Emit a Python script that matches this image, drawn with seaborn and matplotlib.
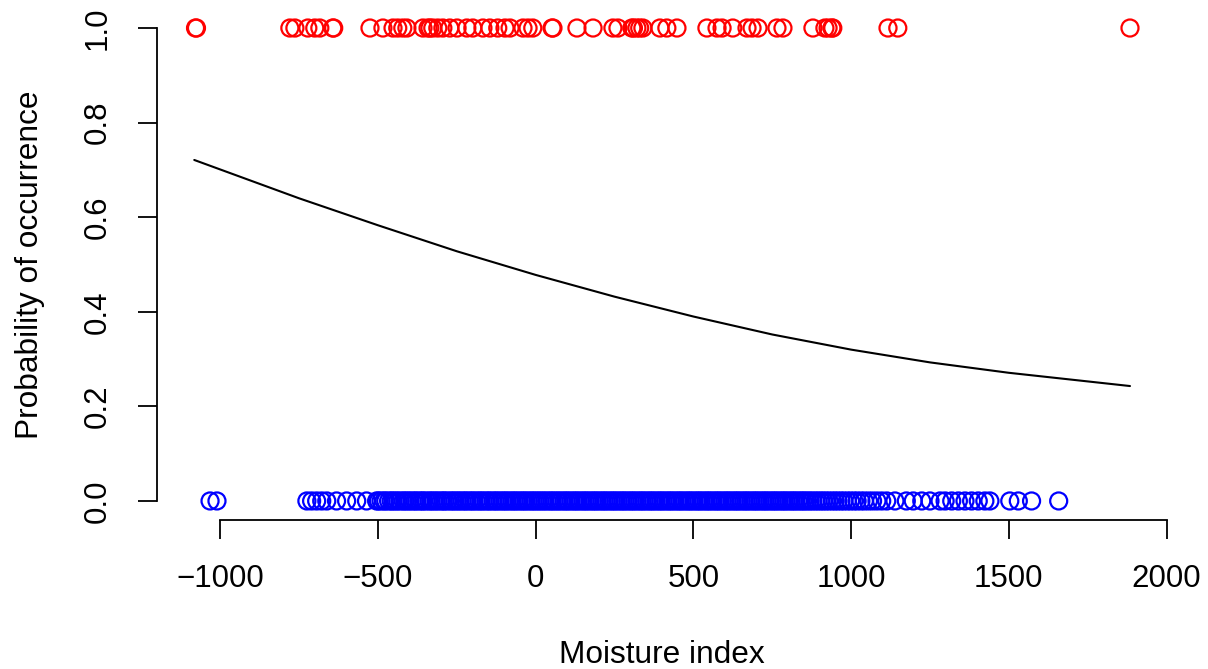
import matplotlib
matplotlib.use("Agg")
import matplotlib.pyplot as plt
import pandas as pd
import seaborn as sns

# presence (y = 1) moisture index values
present_x = [-1078, -1075, -779, -763, -722, -700, -684, -643, -640, -525, -484,
             -452, -437, -421, -408, -357, -341, -335, -326, -310, -294, -272, -249,
             -218, -199, -167, -145, -120, -97, -81, -40, -24, -9, 52, 55, 131,
             182, 245, 261, 305, 310, 321, 330, 340, 394, 416, 448, 543, 575, 591,
             625, 670, 686, 705, 765, 784, 879, 917, 927, 939, 942, 1117, 1148, 1884]

# absence (y = 0) moisture index values, bottom row
absent_x = [-1032, -1010, -725, -710, -694, -678, -662, -631, -599, -567, -536, -504,
            -498, -490, -481, -475, -466, -458, -452, -444, -437, -429, -420, -414,
            -406, -399, -391, -383, -377, -368, -361, -355, -347, -338, -331, -324,
            -316, -309, -300, -293, -287, -279, -270, -263, -256, -248, -241, -233,
            -225, -219, -210, -203, -196, -188, -180, -173, -166, -158, -150, -144,
            -135, -128, -121, -113, -105, -98, -91, -83, -75, -68, -61, -53, -45,
            -38, -31, -23, -15, -8, -1, 7, 14, 22, 29, 37, 45, 52, 59, 67, 74, 82,
            90, 97, 104, 112, 120, 127, 134, 142, 150, 157, 164, 172, 180, 187, 194,
            202, 210, 217, 224, 232, 240, 247, 254, 262, 270, 277, 284, 292, 300,
            307, 314, 322, 330, 337, 344, 352, 360, 367, 374, 382, 390, 397, 404,
            412, 420, 427, 434, 442, 450, 457, 464, 472, 480, 487, 494, 502, 510,
            517, 524, 532, 540, 547, 554, 562, 570, 577, 584, 592, 600, 607, 614,
            622, 630, 637, 644, 652, 660, 667, 674, 682, 690, 697, 704, 712, 720,
            727, 734, 742, 750, 757, 764, 772, 780, 787, 794, 802, 810, 817, 824,
            832, 840, 847, 854, 862, 870, 878, 887, 895, 904, 912, 921, 930, 940,
            949, 958, 968, 977, 988, 998, 1009, 1019, 1031, 1042, 1055, 1068, 1082,
            1097, 1113, 1139, 1175, 1197, 1224, 1250, 1282, 1298, 1319, 1340, 1361,
            1382, 1403, 1424, 1440, 1503, 1530, 1572, 1658]

# fitted probability curve
curve_x = [-1082, -750, -500, -250, 0, 250, 500, 750, 1000, 1250, 1500, 1884]
curve_p = [0.721, 0.640, 0.583, 0.528, 0.478, 0.432, 0.390, 0.352, 0.320, 0.293,
           0.271, 0.243]

curve = pd.DataFrame({"x": curve_x, "p": curve_p})

sns.set_style("white")
plt.rcParams["font.family"] = ["Liberation Sans", "DejaVu Sans"]
plt.rcParams["text.color"] = "black"
plt.rcParams["axes.labelcolor"] = "black"
plt.rcParams["xtick.color"] = "black"
plt.rcParams["ytick.color"] = "black"

fig = plt.figure(figsize=(12.08, 6.69), dpi=100)
ax = fig.add_axes([0.130, 0.2229, 0.8365, 0.7635])

sns.scatterplot(x=present_x, y=[1.0] * len(present_x), marker="o", s=150,
                facecolors="none", edgecolor="red", linewidth=1.6, ax=ax)
sns.scatterplot(x=absent_x, y=[0.0] * len(absent_x), marker="o", s=150,
                facecolors="none", edgecolor="blue", linewidth=1.6, ax=ax)
sns.lineplot(data=curve, x="x", y="p", color="black", linewidth=1.5, ax=ax)

ax.set_xlim(-1200, 2003)
ax.set_ylim(-0.04, 1.04)
ax.set_xticks([-1000, -500, 0, 500, 1000, 1500, 2000])
ax.set_yticks([0, 0.2, 0.4, 0.6, 0.8, 1.0])
ax.set_yticklabels(["0.0", "0.2", "0.4", "0.6", "0.8", "1.0"], rotation=90, va="center")

for s in ["top", "right"]:
    ax.spines[s].set_visible(False)
ax.spines["left"].set_bounds(0, 1)
ax.spines["bottom"].set_bounds(-1000, 2000)
for s in ["left", "bottom"]:
    ax.spines[s].set_color("black")
    ax.spines[s].set_linewidth(1.3)

ax.tick_params(axis="both", direction="out", length=13.7, width=1.3, color="black",
               labelcolor="black", labelsize=22.5, pad=18, bottom=True, left=True)

ax.set_xlabel("Moisture index", fontsize=22.8, va="center", color="black")
ax.set_ylabel("Probability of occurrence", fontsize=22.8, va="center", color="black")
ax.xaxis.set_label_coords(0.5, -0.2645)
ax.yaxis.set_label_coords(-0.1258, 0.5)

fig.savefig("out.png", dpi=100)
